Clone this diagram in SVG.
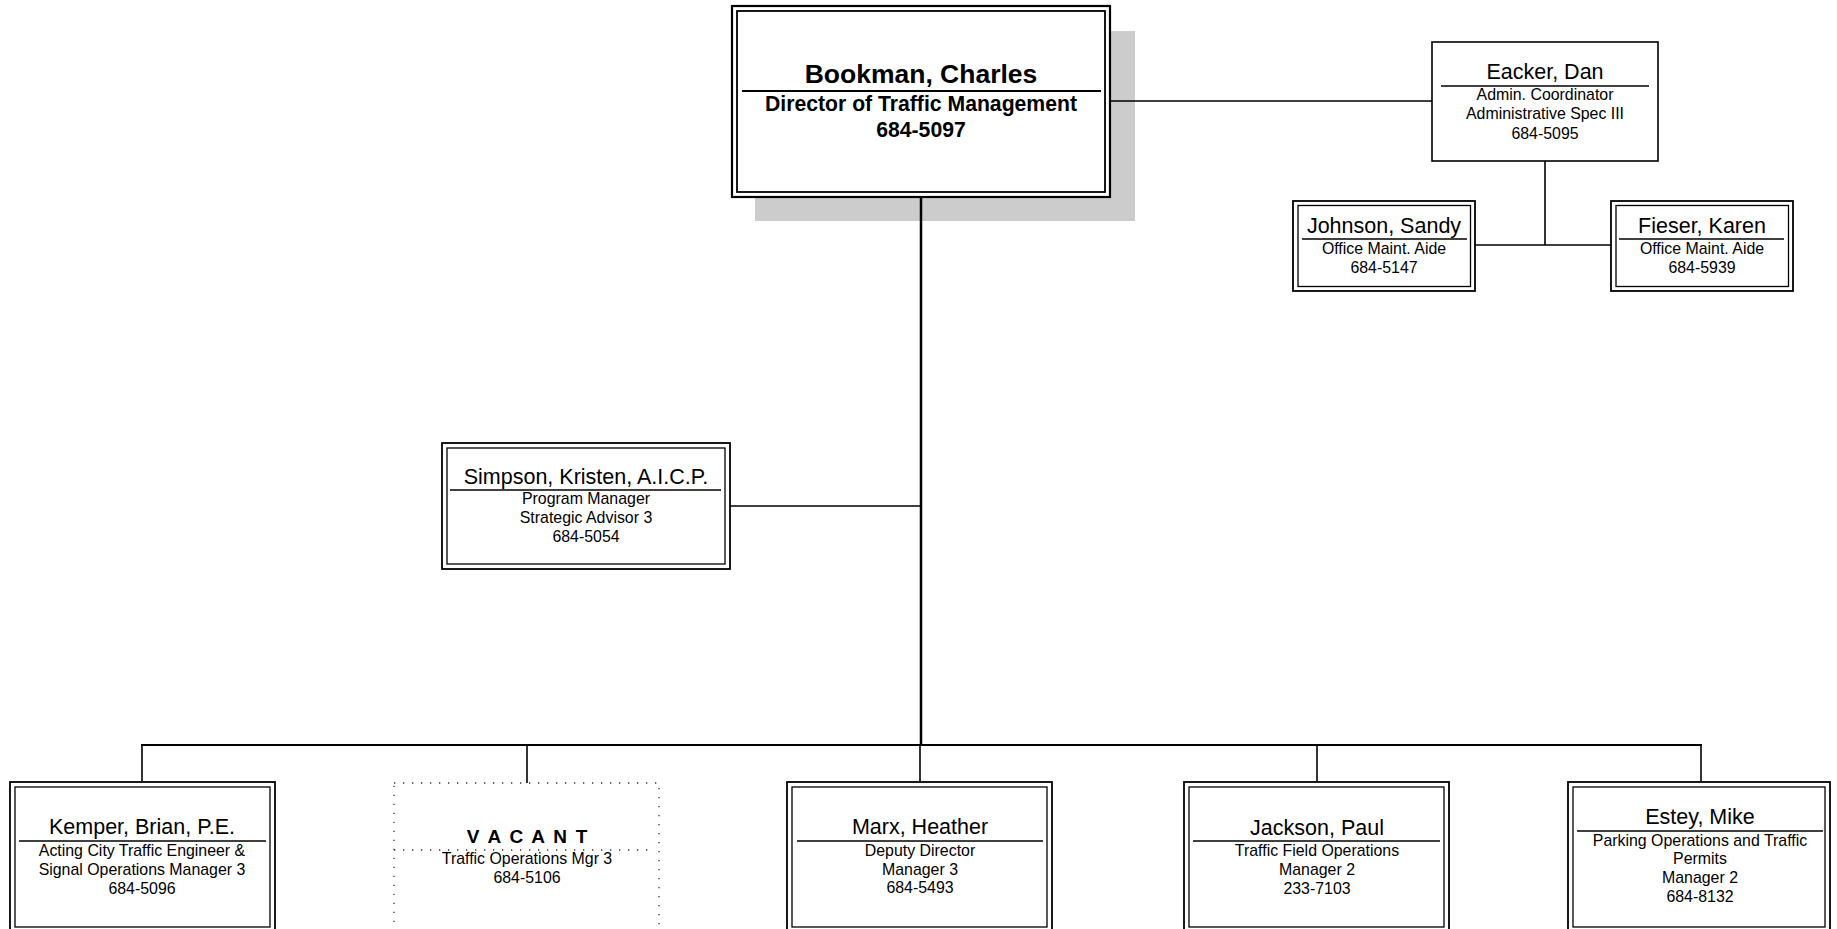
<svg xmlns="http://www.w3.org/2000/svg" width="1837" height="929" viewBox="0 0 1837 929">
<style>
text{font-family:"Liberation Sans",Arial,sans-serif;fill:#000;text-anchor:middle}
.nm{font-size:21.5px}
.dt{font-size:15.9px}
.bn{font-size:26.5px;font-weight:bold}
.bd{font-size:21.2px;font-weight:bold}
.vac{font-size:19px;font-weight:bold;letter-spacing:1.8px}
.o{fill:#fff;stroke:#000;stroke-width:1.8}
.i{fill:none;stroke:#000;stroke-width:1.3}
.div{stroke:#000;stroke-width:1.5}
.dot{fill:none;stroke:#333;stroke-width:1.3;stroke-dasharray:1.3 7.7}
.c{stroke:#000;stroke-width:1.6;fill:none}
</style>
<rect width="1837" height="929" fill="#fff"/>
<g id="bookman">
<rect x="755" y="31" width="380" height="190" fill="#cccccc"/>
<rect class="o" x="732" y="6" width="378" height="191" style="stroke-width:2.2"/>
<rect class="i" x="737" y="11" width="368" height="181" style="stroke-width:1.8"/>
<text class="bn" x="921" y="83">Bookman, Charles</text>
<line class="div" x1="742" y1="91" x2="1101" y2="91" style="stroke-width:2"/>
<text class="bd" x="921" y="111">Director of Traffic Management</text>
<text class="bd" x="921" y="137">684-5097</text>
</g>
<g id="eacker">
<rect class="o" x="1432" y="42" width="226" height="119" style="stroke-width:1.6"/>
<text class="nm" x="1545" y="79">Eacker, Dan</text>
<line class="div" x1="1441" y1="86" x2="1649" y2="86"/>
<text class="dt" x="1545" y="100">Admin. Coordinator</text>
<text class="dt" x="1545" y="119">Administrative Spec III</text>
<text class="dt" x="1545" y="139">684-5095</text>
</g>
<g id="johnson">
<rect class="o" x="1293" y="201" width="182" height="90"/>
<rect class="i" x="1298" y="205.5" width="172.5" height="81"/>
<text class="nm" x="1384" y="233">Johnson, Sandy</text>
<line class="div" x1="1302" y1="239" x2="1467" y2="239"/>
<text class="dt" x="1384" y="254">Office Maint. Aide</text>
<text class="dt" x="1384" y="273">684-5147</text>
</g>
<g id="fieser">
<rect class="o" x="1611" y="201" width="182" height="90"/>
<rect class="i" x="1616" y="205.5" width="172.5" height="81"/>
<text class="nm" x="1702" y="233">Fieser, Karen</text>
<line class="div" x1="1619" y1="239" x2="1784" y2="239"/>
<text class="dt" x="1702" y="254">Office Maint. Aide</text>
<text class="dt" x="1702" y="273">684-5939</text>
</g>
<g id="simpson">
<rect class="o" x="442" y="443" width="288" height="126"/>
<rect class="i" x="447" y="448" width="278" height="116"/>
<text class="nm" x="586" y="484">Simpson, Kristen, A.I.C.P.</text>
<line class="div" x1="450" y1="490" x2="721" y2="490"/>
<text class="dt" x="586" y="504">Program Manager</text>
<text class="dt" x="586" y="523">Strategic Advisor 3</text>
<text class="dt" x="586" y="542">684-5054</text>
</g>
<g id="kemper">
<rect class="o" x="10" y="782" width="265" height="152"/>
<rect class="i" x="15" y="787" width="255" height="140"/>
<text class="nm" x="142" y="834">Kemper, Brian, P.E.</text>
<line class="div" x1="19" y1="841" x2="266" y2="841"/>
<text class="dt" x="142" y="856">Acting City Traffic Engineer &amp;</text>
<text class="dt" x="142" y="875">Signal Operations Manager 3</text>
<text class="dt" x="142" y="894">684-5096</text>
</g>
<g id="vacant">
<rect class="dot" x="394" y="783" width="265" height="160"/>
<text class="vac" x="528" y="843">V A C A N T</text>
<line class="dot" x1="394" y1="850" x2="650" y2="850"/>
<text class="dt" x="527" y="864">Traffic Operations Mgr 3</text>
<text class="dt" x="527" y="883">684-5106</text>
</g>
<g id="marx">
<rect class="o" x="787" y="782" width="265" height="152"/>
<rect class="i" x="792" y="787" width="255" height="140"/>
<text class="nm" x="920" y="834">Marx, Heather</text>
<line class="div" x1="797" y1="841" x2="1043" y2="841"/>
<text class="dt" x="920" y="856">Deputy Director</text>
<text class="dt" x="920" y="875">Manager 3</text>
<text class="dt" x="920" y="893">684-5493</text>
</g>
<g id="jackson">
<rect class="o" x="1184" y="782" width="265" height="152"/>
<rect class="i" x="1189" y="787" width="255" height="140"/>
<text class="nm" x="1317" y="835">Jackson, Paul</text>
<line class="div" x1="1193" y1="841" x2="1440" y2="841"/>
<text class="dt" x="1317" y="856">Traffic Field Operations</text>
<text class="dt" x="1317" y="875">Manager 2</text>
<text class="dt" x="1317" y="894">233-7103</text>
</g>
<g id="estey">
<rect class="o" x="1568" y="782" width="262" height="152"/>
<rect class="i" x="1573" y="787" width="252" height="140"/>
<text class="nm" x="1700" y="824">Estey, Mike</text>
<line class="div" x1="1577" y1="831" x2="1823" y2="831"/>
<text class="dt" x="1700" y="846">Parking Operations and Traffic</text>
<text class="dt" x="1700" y="864">Permits</text>
<text class="dt" x="1700" y="883">Manager 2</text>
<text class="dt" x="1700" y="902">684-8132</text>
</g>
<g id="connectors">
<line class="c" x1="1111" y1="101" x2="1432" y2="101"/>
<line class="c" x1="1545" y1="161" x2="1545" y2="245"/>
<line class="c" x1="1475" y1="245" x2="1611" y2="245"/>
<line class="c" x1="730" y1="506" x2="921" y2="506"/>
<line class="c" x1="921" y1="198" x2="921" y2="746" style="stroke-width:2.5"/>
<line class="c" x1="141" y1="745" x2="1702" y2="745" style="stroke-width:2"/>
<line class="c" x1="142" y1="745" x2="142" y2="781"/>
<line class="c" x1="527" y1="745" x2="527" y2="783"/>
<line class="c" x1="920" y1="745" x2="920" y2="781"/>
<line class="c" x1="1317" y1="745" x2="1317" y2="781"/>
<line class="c" x1="1701" y1="745" x2="1701" y2="781"/>
</g>
</svg>
